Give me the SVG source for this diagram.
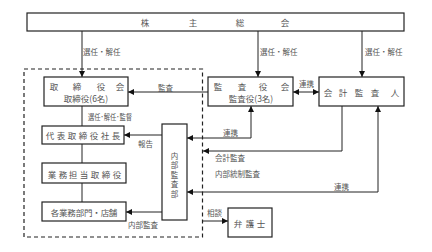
<svg xmlns="http://www.w3.org/2000/svg" width="432" height="252" viewBox="0 0 432 252">
<defs>
<style>
.box{fill:#fff;stroke:#222;stroke-width:1.2}
.ln{fill:none;stroke:#222;stroke-width:1}
.dash{fill:none;stroke:#222;stroke-width:1.2;stroke-dasharray:4,3}
text{font-family:"Noto Sans CJK JP","Noto Sans",sans-serif;fill:#555}
.bt{font-size:8.5px;text-anchor:middle;dominant-baseline:central}
.vt{font-size:7.5px;text-anchor:middle;dominant-baseline:central}
.lb{font-size:7.5px;dominant-baseline:central}
</style>
<marker id="ah" viewBox="0 0 10 10" refX="10" refY="5" markerWidth="6" markerHeight="6" markerUnits="userSpaceOnUse" orient="auto-start-reverse">
<path d="M0,0 L10,5 L0,10 z" fill="#111"/>
</marker>
</defs>
<rect width="432" height="252" fill="#fff"/>
<rect class="dash" x="24" y="69" width="178.5" height="168"/>
<g id="connectors">
<line class="ln" x1="82" y1="31" x2="82" y2="77" marker-end="url(#ah)"/>
<line class="ln" x1="258" y1="31" x2="258" y2="77" marker-end="url(#ah)"/>
<line class="ln" x1="362" y1="31" x2="362" y2="77" marker-end="url(#ah)"/>
<line class="ln" x1="208" y1="92" x2="128" y2="92" marker-end="url(#ah)"/>
<line class="ln" x1="293" y1="92" x2="319" y2="92" marker-start="url(#ah)" marker-end="url(#ah)"/>
<line class="ln" x1="82" y1="106" x2="82" y2="126"/>
<line class="ln" x1="82" y1="144" x2="82" y2="163"/>
<line class="ln" x1="82" y1="183" x2="82" y2="202"/>
<line class="ln" x1="162" y1="135" x2="124" y2="135" marker-end="url(#ah)"/>
<polyline class="ln" points="251,106 251,138 187,138" marker-start="url(#ah)" marker-end="url(#ah)"/>
<polyline class="ln" points="342,106 342,151 203,151" marker-end="url(#ah)"/>
<polyline class="ln" points="378,106 378,192 187,192" marker-start="url(#ah)" marker-end="url(#ah)"/>
<line class="ln" x1="203" y1="221" x2="228" y2="221" marker-end="url(#ah)"/>
<line class="ln" x1="162" y1="212" x2="126" y2="212" marker-end="url(#ah)"/>
<text class="lb" x="83" y="51">選任・解任</text>
<text class="lb" x="260" y="51">選任・解任</text>
<text class="lb" x="365" y="51">選任・解任</text>
<text class="lb" x="158" y="87">監査</text>
<text class="lb" x="299" y="83">連携</text>
<text class="lb" x="88" y="116" font-size="6" textLength="44" lengthAdjust="spacingAndGlyphs">選任･解任･監督</text>
<text class="lb" x="138" y="143">報告</text>
<text class="lb" x="223" y="132">連携</text>
<text class="lb" x="215" y="157">会計監査</text>
<text class="lb" x="215" y="173">内部統制監査</text>
<text class="lb" x="334" y="186">連携</text>
<text class="lb" x="207" y="212">相談</text>
<text class="lb" x="128" y="224">内部監査</text>
</g>
<g id="shareholders">
<rect class="box" x="27" y="13" width="377" height="18"/>
<text class="bt" x="145 193 240 285" y="22">株主総会</text>
</g>
<g id="board">
<rect class="box" x="44" y="77" width="84" height="29"/>
<text class="bt" x="54 77 101 120" y="86">取締役会</text>
<text class="bt" x="86" y="98">取締役(6名)</text>
</g>
<g id="president">
<rect class="box" x="42" y="126" width="82" height="18"/>
<text class="bt" x="50 61 72 83 94 105 116" y="135">代表取締役社長</text>
</g>
<g id="executive">
<rect class="box" x="42" y="163" width="84" height="20"/>
<text class="bt" x="52 63 73 84 95 106 117" y="173.5">業務担当取締役</text>
</g>
<g id="departments">
<rect class="box" x="42" y="202" width="84" height="19"/>
<text class="bt" x="55 63.3 71.6 80 88.3 96.6 105 113" y="212">各業務部門・店舗</text>
</g>
<g id="internal-audit">
<rect class="box" x="162" y="124" width="25" height="96"/>
<text class="vt" x="174.5" y="155">内</text>
<text class="vt" x="174.5" y="164.5">部</text>
<text class="vt" x="174.5" y="174">監</text>
<text class="vt" x="174.5" y="183.5">査</text>
<text class="vt" x="174.5" y="193">部</text>
</g>
<g id="audit-board">
<rect class="box" x="208" y="77" width="85" height="29"/>
<text class="bt" x="218 242 263 285" y="86">監査役会</text>
<text class="bt" x="251" y="98">監査役(3名)</text>
</g>
<g id="accountant">
<rect class="box" x="319" y="77" width="85" height="29"/>
<text class="bt" x="328 343 359 375 395" y="92">会計監査人</text>
</g>
<g id="lawyer">
<rect class="box" x="228" y="208" width="44" height="29"/>
<text class="bt" x="238 250 261" y="222.5">弁護士</text>
</g>
</svg>
